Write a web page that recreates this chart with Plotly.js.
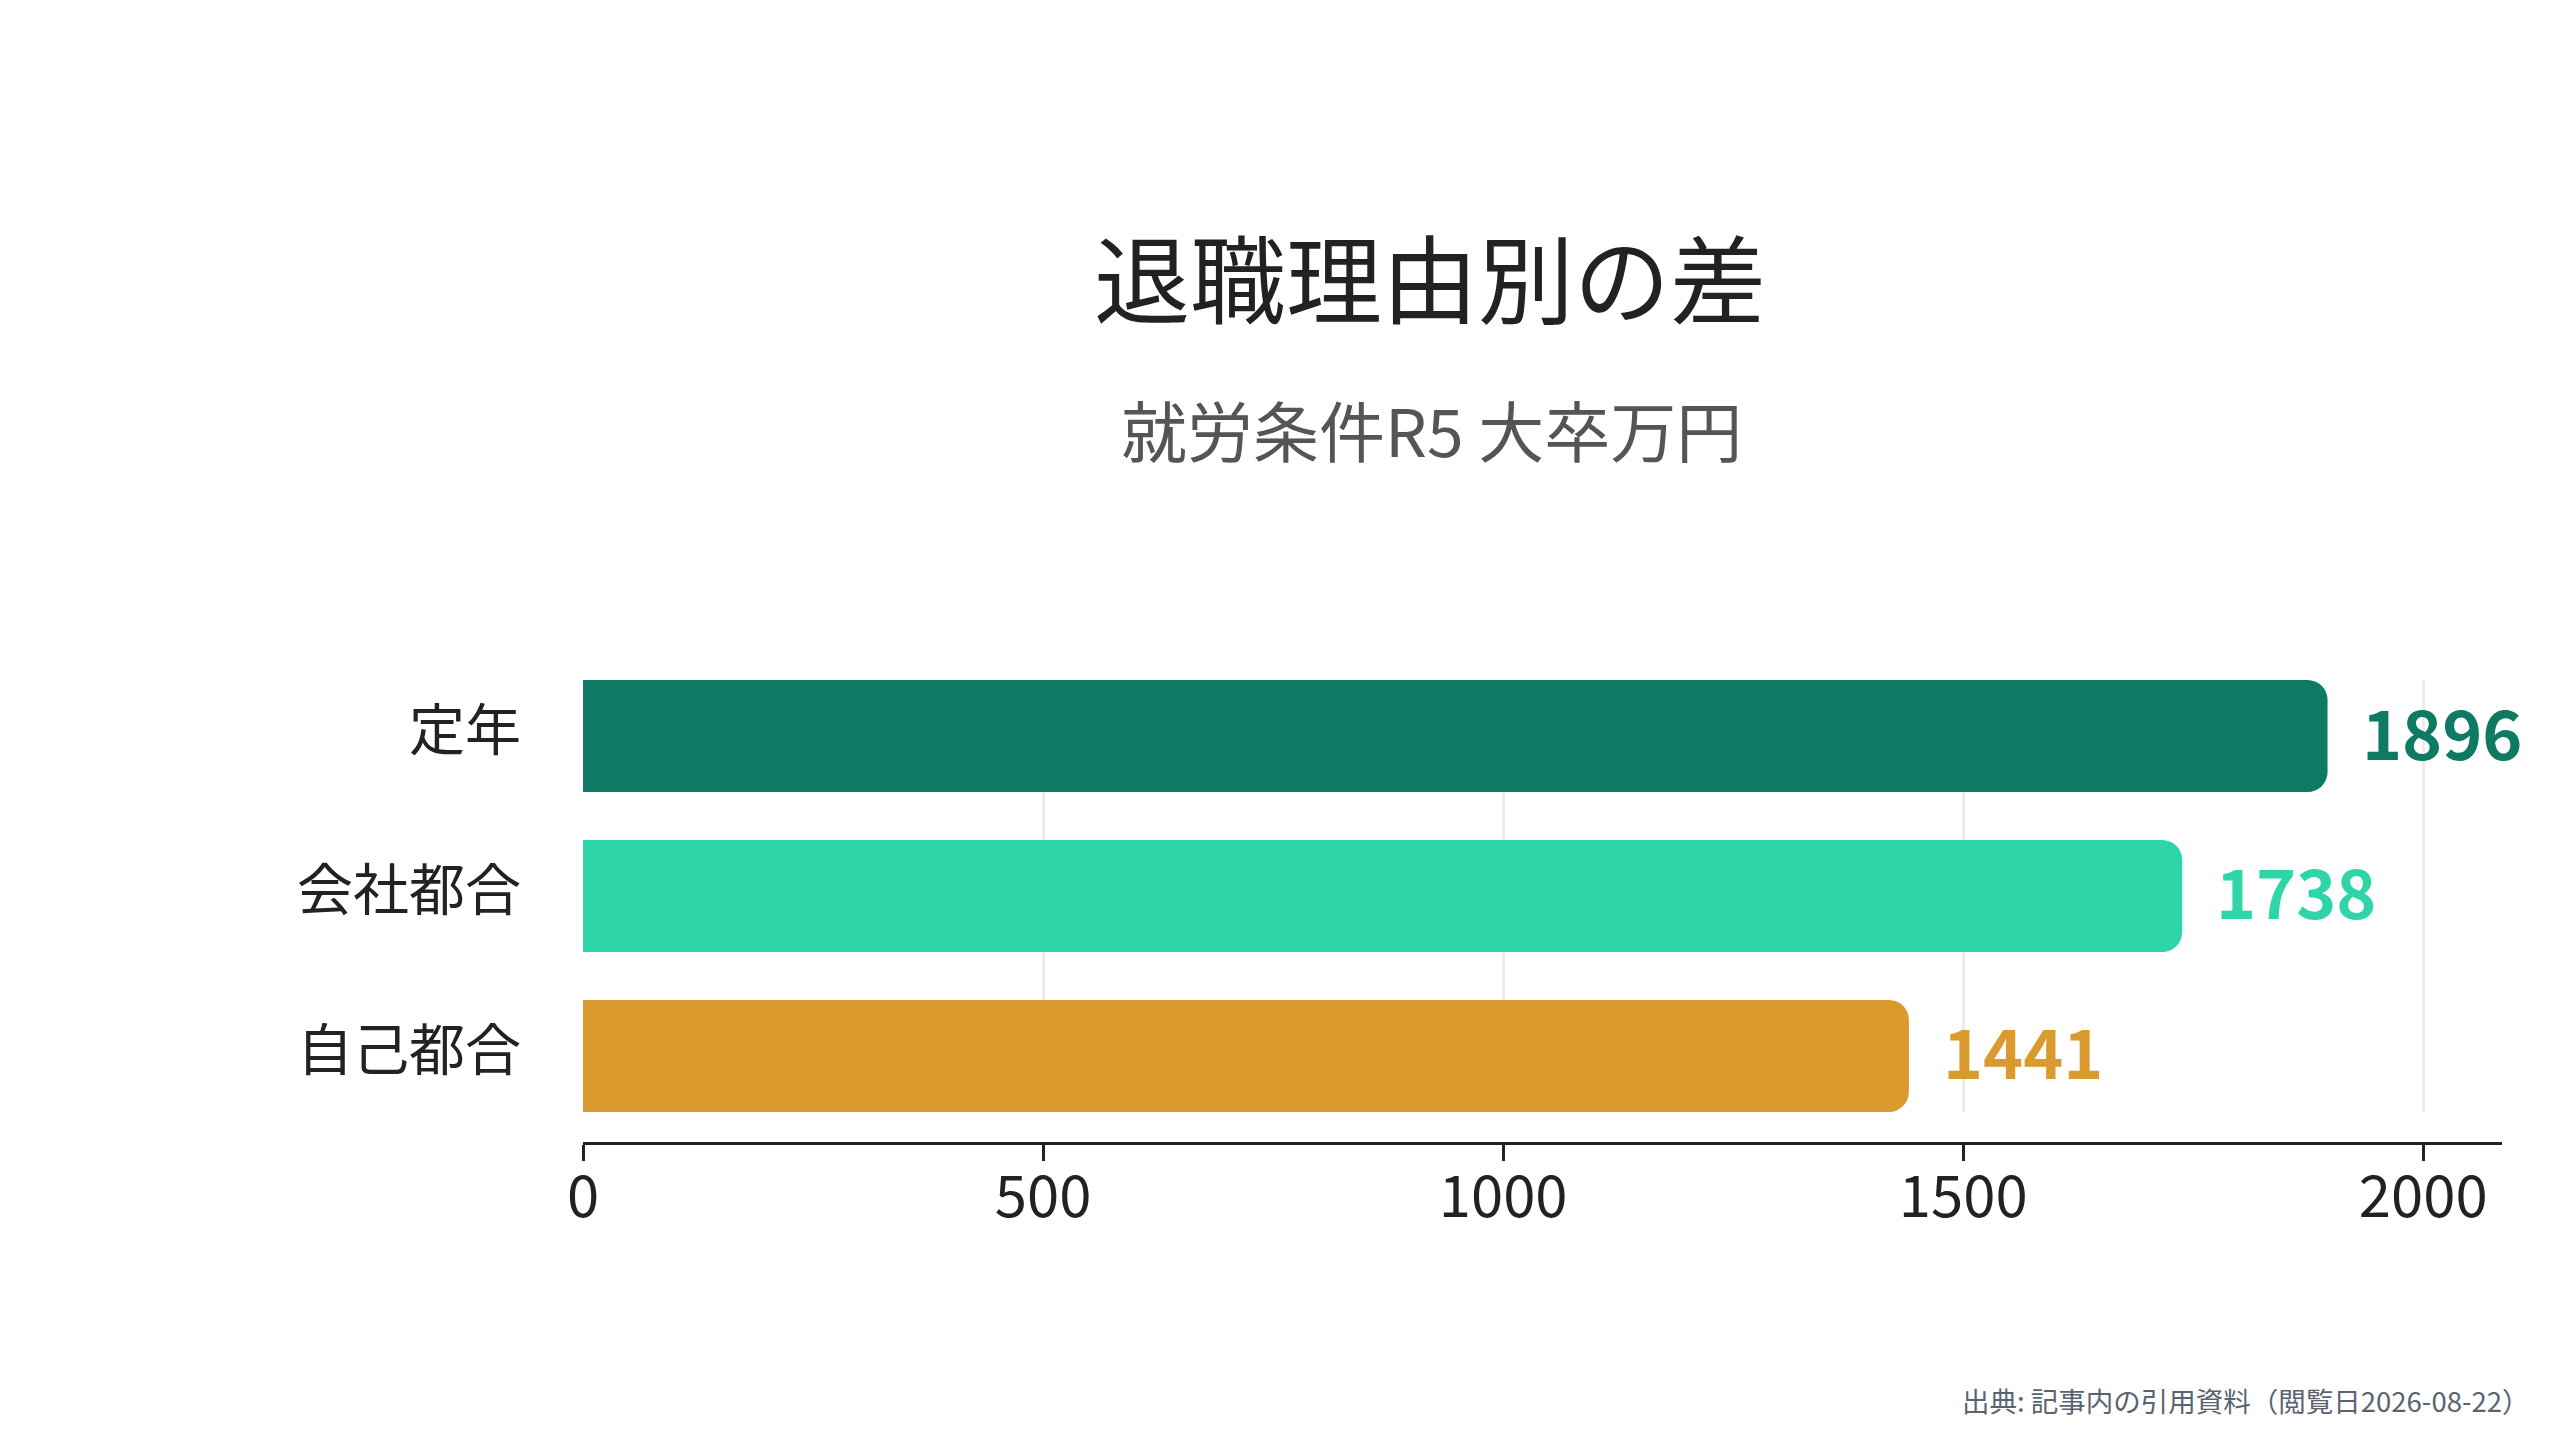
<!DOCTYPE html>
<html>
<head>
<meta charset="utf-8">
<script src="https://cdn.plot.ly/plotly-3.0.1.min.js"></script>
<style>
  html, body { margin: 0; padding: 0; background: #ffffff; }
  #chart { width: 2560px; height: 1440px; }
</style>
</head>
<body>
<div id="chart"></div>
<script>
// ---- data ----
const categories = ['定年', '会社都合', '自己都合'];
const values = [1896, 1738, 1441];
const barColors = ['#0f7a64', '#2ed5a8', '#da9a2e'];
const tickVals = [0, 500, 1000, 1500, 2000];
const tickText = ['0', '500', '1000', '1500', '2000'];
const titleText = '退職理由別の差';
const subtitleText = '就労条件R5 大卒万円';
const footerText = '出典: 記事内の引用資料（閲覧日2026-08-22）';

const FONT = '"Noto Sans CJK JP", "Noto Sans", sans-serif';

const trace = {
  type: 'bar',
  orientation: 'h',
  x: values,
  y: categories,
  width: 0.7,
  marker: { color: barColors, cornerradius: 20, line: { width: 0 } },
  hoverinfo: 'none',
  showlegend: false
};

const valueAnnotations = values.map((v, i) => ({
  x: v,
  y: categories[i],
  xref: 'x',
  yref: 'y',
  text: '<b>' + v + '</b>',
  showarrow: false,
  xanchor: 'left',
  yanchor: 'middle',
  xshift: 32,
  yshift: 6,
  font: { family: FONT, size: 68, color: barColors[i] }
}));

const layout = {
  width: 2560,
  height: 1440,
  paper_bgcolor: '#ffffff',
  plot_bgcolor: '#ffffff',
  margin: { l: 583, r: 58, t: 680, b: 297, pad: 0 },
  font: { family: FONT, color: '#222222' },
  title: {
    text: titleText,
    font: { family: FONT, size: 96, color: '#222222' },
    xref: 'container',
    yref: 'container',
    x: 0.5586,
    xanchor: 'center',
    y: 0.8042,
    yanchor: 'middle'
  },
  xaxis: {
    range: [0, 2085.6],
    anchor: 'free',
    position: 0,
    showline: true,
    linecolor: '#222222',
    linewidth: 3,
    ticks: 'outside',
    ticklen: 16,
    tickwidth: 3,
    tickcolor: '#222222',
    tickvals: tickVals,
    ticktext: tickText,
    ticklabelstandoff: -14,
    tickfont: { family: FONT, size: 58, color: '#222222' },
    showgrid: true,
    gridcolor: '#ececec',
    gridwidth: 3,
    zeroline: false,
    fixedrange: true
  },
  yaxis: {
    type: 'category',
    categoryorder: 'array',
    categoryarray: categories,
    domain: [0.067, 1],
    range: [2.35, -0.35],
    showgrid: false,
    showline: false,
    zeroline: false,
    ticks: '',
    ticklabelstandoff: 61,
    ticklabelshift: 6,
    tickfont: { family: FONT, size: 56, color: '#222222' },
    fixedrange: true
  },
  annotations: valueAnnotations.concat([
    {
      text: subtitleText,
      xref: 'paper', yref: 'paper',
      x: 0.4424, y: 1.544,
      xanchor: 'center', yanchor: 'middle',
      showarrow: false,
      font: { family: FONT, size: 66, color: '#555555' }
    },
    {
      text: footerText,
      xref: 'paper', yref: 'paper',
      x: 1.0156, y: -0.555,
      xanchor: 'right', yanchor: 'middle',
      showarrow: false,
      font: { family: FONT, size: 27.5, color: '#5b6370' }
    }
  ])
};

Plotly.newPlot('chart', [trace], layout, { displayModeBar: false, staticPlot: true });
</script>
</body>
</html>
